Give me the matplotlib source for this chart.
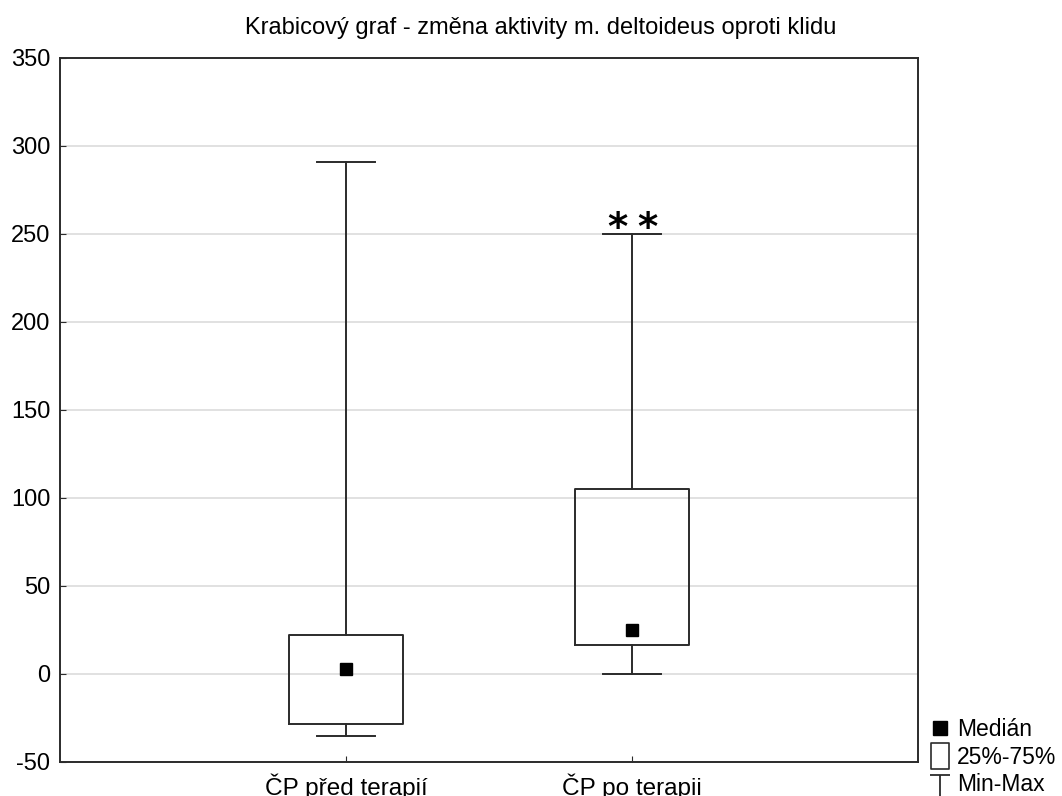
import numpy as np
import matplotlib.pyplot as plt
from matplotlib.lines import Line2D
from matplotlib.path import Path

plt.rcParams['font.family'] = ['Liberation Sans', 'DejaVu Sans']
plt.rcParams['axes.unicode_minus'] = False

# skupiny a jejich statistiky (změna aktivity oproti klidu)
skupiny = ['ČP před terapií', 'ČP po terapii']
medianx = [3, 25]
q1 = [-28.5, 16.5]
q3 = [22, 105]
minima = [-35, 0]
maxima = [291, 250]

fig = plt.figure(figsize=(10.62, 7.96), dpi=100)
ax = fig.add_axes([60 / 1062, 1 - 762 / 796, 858 / 1062, 704 / 796])

pozice = np.arange(1, len(skupiny) + 1)
stats = []
for i in range(len(skupiny)):
    stats.append({'med': medianx[i], 'q1': q1[i], 'q3': q3[i],
                  'whislo': minima[i], 'whishi': maxima[i], 'fliers': []})

barva = '#2b2b2b'
ax.bxp(stats, positions=pozice, widths=0.4, showfliers=False,
       boxprops=dict(color=barva, lw=1.4),
       whiskerprops=dict(color=barva, lw=1.4),
       capprops=dict(color=barva, lw=1.4),
       medianprops=dict(visible=False), capwidths=0.2)
ax.plot(pozice, medianx, 's', color='black', ms=9, zorder=5)

# hvězdičky nad druhou skupinou
for dx in (-10.8, 10.8):
    ax.annotate('*', xy=(pozice[1], maxima[1] + 3), xytext=(dx, 0),
                textcoords='offset points', ha='center', va='center',
                fontsize=28, fontweight='bold', color='black', family='DejaVu Sans')

ax.set_xlim(0, 3)
ax.set_ylim(-50, 350)
ax.set_yticks(np.arange(-50, 351, 50))
ax.set_xticks(pozice)
ax.set_xticklabels(skupiny)
ax.yaxis.grid(True, color='#dcdcdc', lw=1.2)
ax.set_axisbelow(True)
ax.tick_params(direction='in', length=4, color=barva, labelsize=17, pad=7)
ax.tick_params(axis='x', labelsize=17.5, pad=8)
for s in ax.spines.values():
    s.set_color(barva)
    s.set_linewidth(1.4)

fig.text(541 / 1062, 1 - 28 / 796, 'Krabicový graf - změna aktivity m. deltoideus oproti klidu',
         ha='center', va='center', fontsize=17)

# legenda vpravo dole
obdelnik = Path([(-0.33, -0.5), (0.33, -0.5), (0.33, 0.5), (-0.33, 0.5), (-0.33, -0.5)],
                [Path.MOVETO, Path.LINETO, Path.LINETO, Path.LINETO, Path.CLOSEPOLY])
minmax = Path([(-0.5, 0.4), (0.5, 0.4), (0, 0.4), (0, -0.6)],
              [Path.MOVETO, Path.LINETO, Path.MOVETO, Path.LINETO])
polozky = [
    Line2D([], [], ls='none', marker='s', color='black', ms=10),
    Line2D([], [], ls='none', marker=obdelnik, mfc='white', mec=barva, ms=19, mew=1.2),
    Line2D([], [], ls='none', marker=minmax, color=barva, ms=18, mew=1.3),
]
fig.legend(polozky, ['Medián', '25%-75%', 'Min-Max'], loc='lower left',
           bbox_to_anchor=(919 / 1062, -0.014), frameon=False, fontsize=16.5,
           handlelength=0.8, handletextpad=0.35, labelspacing=0.18, borderpad=0)

fig.savefig('out.png', dpi=100)
